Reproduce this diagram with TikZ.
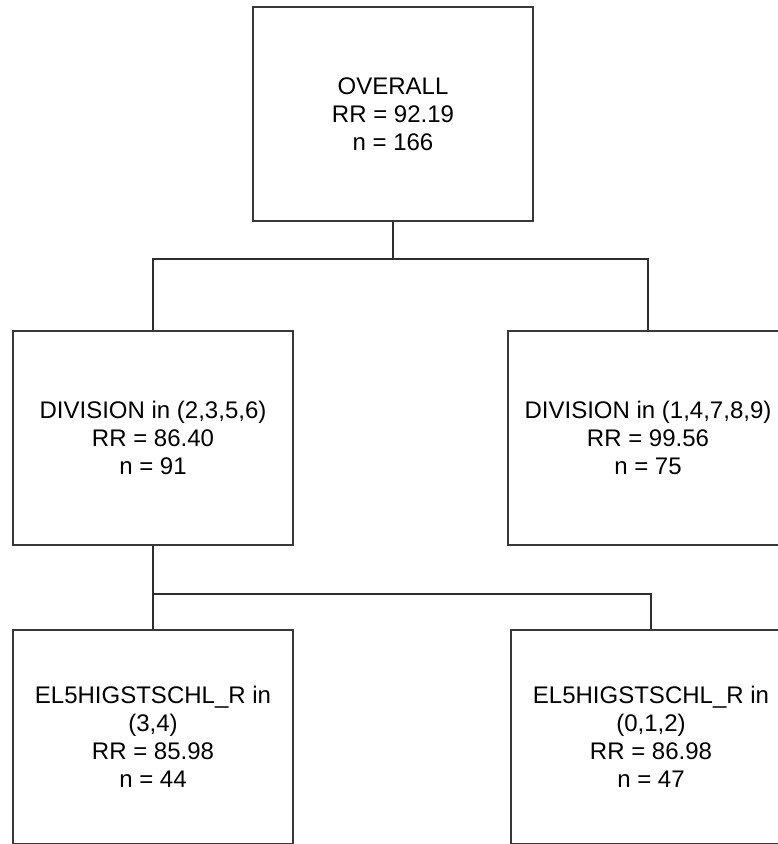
\documentclass[tikz,border=0pt]{standalone}
\usepackage{fontspec}
\setmainfont{Liberation Sans}

\begin{document}
\begin{tikzpicture}[x=0.75pt, y=-0.75pt,
    box/.style={draw=black!78, line width=1.5pt, minimum width=210pt, minimum height=160.5pt,
      align=center, inner sep=0pt, font=\fontsize{18}{21}\selectfont},
    link/.style={draw=black!82, line width=1.5pt}]

    \def \pagew {778}
    \def \pageh {844}
    \useasboundingbox (0,0) rectangle (\pagew,\pageh);
    \clip (0,0) rectangle (\pagew,\pageh);

    % tree nodes, centres in pixels of the page
    \foreach \name/\x/\y/\txt in {
        top/393/114/{OVERALL\\RR = 92.19\\n = 166},
        divl/153/437.5/{DIVISION in (2,3,5,6)\\RR = 86.40\\n = 91},
        divr/648/437.5/{DIVISION in (1,4,7,8,9)\\RR = 99.56\\n = 75},
        ell/153/736.5/{EL5HIGSTSCHL\_R in\\(3,4)\\RR = 85.98\\n = 44},
        elr/651/736.5/{EL5HIGSTSCHL\_R in\\(0,1,2)\\RR = 86.98\\n = 47}}
    {
      \node[box] (\name) at (\x,\y) {\txt};
    }

    \draw [link] (top.south) -- ++(0,37) -| (divl.north);
    \draw [link] (top.south) -- ++(0,37) -| (divr.north);
    \draw [link] (divl.south) -- ++(0,48) -| (ell.north);
    \draw [link] (divl.south) -- ++(0,48) -| (elr.north);
\end{tikzpicture}
\end{document}
